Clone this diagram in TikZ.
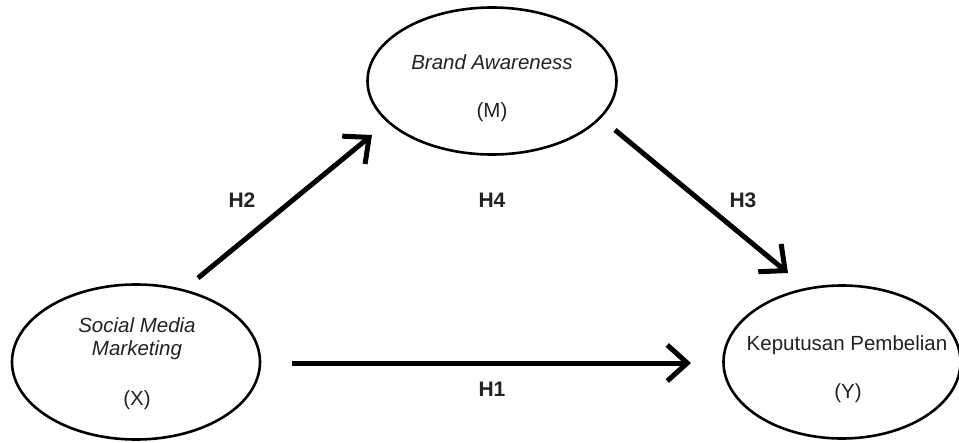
\documentclass[tikz,border=0pt]{standalone}
\usepackage{fontspec}
\setmainfont{Liberation Sans}
\usetikzlibrary{shapes.geometric,arrows.meta}
\definecolor{txt}{HTML}{222222}
\tikzset{
  var/.style={ellipse,draw=black,line width=2.6pt,minimum width=#1,inner sep=0pt},
  lbl/.style={text=txt,font=\fontsize{20.5}{24}\selectfont,inner sep=0pt},
  hyp/.style={text=txt,font=\bfseries\fontsize{21}{24}\selectfont,inner sep=0pt},
  path/.style={line width=5pt,-{Straight Barb[length=20pt,width=36pt,line width=5pt]}}
}
\begin{document}
\begin{tikzpicture}[x=1pt,y=-1pt]
\useasboundingbox (0,0) rectangle (959,442);
% ellipses
\node[var=249pt,minimum height=147pt] (M) at (492,81) {};
\node[var=248pt,minimum height=155pt] (X) at (136,362) {};
\node[var=237pt,minimum height=153pt] (Y) at (842,362) {};
% texts
\node[lbl] (Mt1) at (492,62) {\itshape Brand Awareness};
\node[lbl] (Mt2) at (492,112) {(M)};
\node[lbl] (Xt1) at (137,325) {\itshape Social Media};
\node[lbl] (Xt2) at (137,350) {\itshape Marketing};
\node[lbl] (Xt3) at (137,400) {(X)};
\node[lbl] (Yt1) at (847,345) {Keputusan Pembelian};
\node[lbl] (Yt2) at (848,393) {(Y)};
% hypothesis labels
\node[hyp] (H2) at (242,200) {H2};
\node[hyp] (H4) at (492,200) {H4};
\node[hyp] (H3) at (743,200) {H3};
\node[hyp] (H1) at (492,389) {H1};
% connector endpoints
\coordinate (a1) at (198,278);
\coordinate (a2) at (372,135);
\coordinate (b1) at (615,130);
\coordinate (b2) at (788,273);
\coordinate (c1) at (292,363);
\coordinate (c2) at (691,363);
\draw[path] (a1) -- (a2);
\draw[path] (b1) -- (b2);
\draw[path] (c1) -- (c2);
\end{tikzpicture}
\end{document}
